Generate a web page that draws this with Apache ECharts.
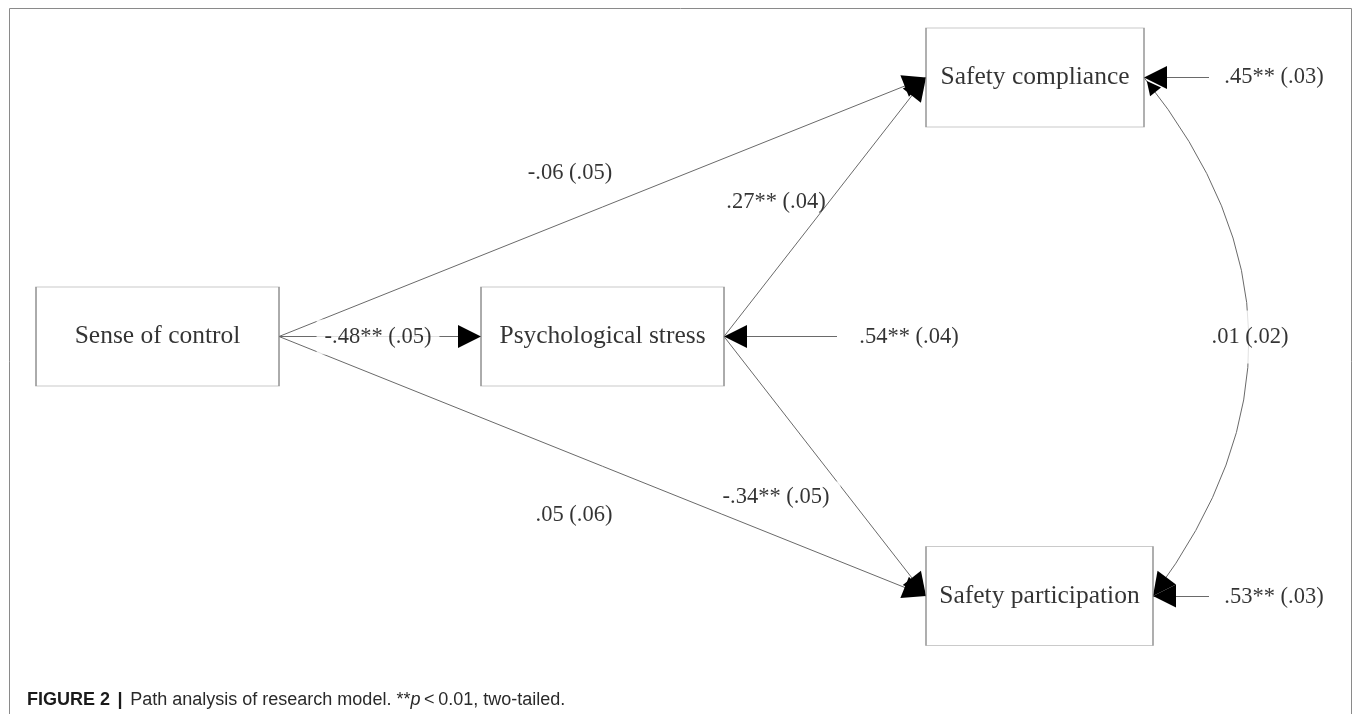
<!DOCTYPE html>
<html>
<head>
<meta charset="utf-8">
<script src="https://cdn.jsdelivr.net/npm/echarts@6/dist/echarts.min.js"></script>
<style>
html,body{margin:0;padding:0;background:#fff;}
#c{width:1357px;height:714px;}
</style>
</head>
<body>
<div id="c"></div>
<script>
// ---------------- data ----------------
const variables = ['Sense of control', 'Psychological stress', 'Safety compliance', 'Safety participation'];
const pathFrom = [0, 0, 0, 1, 1];
const pathTo = [1, 2, 3, 2, 3];
const pathEstimate = ['-.48**', '-.06', '.05', '.27**', '-.34**'];
const pathSE = ['.05', '.05', '.06', '.04', '.05'];
const residualOf = [1, 2, 3];
const residualEstimate = ['.54**', '.45**', '.53**'];
const residualSE = ['.04', '.03', '.03'];
const covPair = [2, 3];
const covEstimate = ['.01'];
const covSE = ['.02'];
const captionLabel = 'FIGURE 2';
const captionText = 'Path analysis of research model.';

// ---------------- layout (diagram units = pixels) ----------------
const boxCenter = [[157.5, 336.5], [602.5, 336.5], [1035, 77.5], [1039.5, 596]];
const boxSize = [[243, 99], [243, 99], [218, 99], [227, 99]];
const pathLabelPos = [[378, 337], [570, 173], [574, 515], [776, 202], [781, 497.5]];
const pathLabelMask = [[6, 8], null, null, null, [8, 11, 1, 1]];
const residualSourcePos = [[837, 336.5], [1209, 77.5], [1209, 596]];
const residualLabelPos = [[909, 337], [1274, 77], [1274, 597]];
const covLabelPos = [1250, 337];
const covLabelMask = [15, 4];
const covCurveness = 0.387;
const arrowSize = [14, 23];

// ---------------- geometry helpers ----------------
function rightMid(i) { return [boxCenter[i][0] + boxSize[i][0] / 2, boxCenter[i][1]]; }
function leftMid(i) { return [boxCenter[i][0] - boxSize[i][0] / 2, boxCenter[i][1]]; }
function moveToward(p, q, d) {
  const dx = q[0] - p[0], dy = q[1] - p[1];
  const L = Math.hypot(dx, dy);
  return [p[0] + dx / L * d, p[1] + dy / L * d];
}
const half = arrowSize[1] / 2;

// straight directed paths
const straightLines = [];
pathFrom.forEach((f, k) => {
  straightLines.push([rightMid(f), leftMid(pathTo[k])]);
});
residualOf.forEach((b, k) => {
  straightLines.push([residualSourcePos[k], rightMid(b)]);
});
const lineData = straightLines.map(s => ({ coords: [s[0], s[1]] }));
const arrowData = straightLines.map(s => ({ coords: [s[0], moveToward(s[1], s[0], half)] }));

// covariance curve
const c1 = rightMid(covPair[0]), c2 = rightMid(covPair[1]);
const cp = [(c1[0] + c2[0]) / 2 - (c1[1] - c2[1]) * covCurveness,
            (c1[1] + c2[1]) / 2 - (c2[0] - c1[0]) * covCurveness];
const covLine = { coords: [c1, c2] };
const covArrow = { coords: [moveToward(c1, cp, half), moveToward(c2, cp, half)] };

// labels
const labelData = [];
pathEstimate.forEach((e, k) => {
  const item = { value: pathLabelPos[k], name: e + ' (' + pathSE[k] + ')' };
  if (pathLabelMask[k]) item.label = { backgroundColor: '#fff', padding: pathLabelMask[k] };
  labelData.push(item);
});
residualEstimate.forEach((e, k) => {
  labelData.push({ value: residualLabelPos[k], name: e + ' (' + residualSE[k] + ')' });
});
labelData.push({ value: covLabelPos, name: covEstimate[0] + ' (' + covSE[0] + ')',
  label: { backgroundColor: '#fff', padding: covLabelMask } });

const boxData = variables.map((v, i) => ({ name: v, value: boxCenter[i], symbolSize: boxSize[i] }));

const serif = '"Liberation Serif", "Times New Roman", serif';
const sans = '"Liberation Sans", Arial, sans-serif';

const chart = echarts.init(document.getElementById('c'), null, { renderer: 'canvas' });
chart.setOption({
  animation: false,
  backgroundColor: '#fff',
  grid: { left: 0, right: 0, top: 0, bottom: 0, containLabel: false },
  xAxis: { type: 'value', min: 0, max: 1357, show: false },
  yAxis: { type: 'value', min: 0, max: 714, inverse: true, show: false },
  title: {
    left: 22, top: 686,
    text: '{b|' + captionLabel + '}{bar|\u2009|\u2009}{r|' + captionText + ' **}{i|p}{r|\u2009<\u20090.01, two-tailed.}',
    textStyle: {
      fontWeight: 'normal',
      rich: {
        b: { fontFamily: sans, fontWeight: 'bold', fontSize: 18, color: '#1a1a1a' },
        bar: { fontFamily: sans, fontWeight: 'bold', fontSize: 18, color: '#1a1a1a', padding: [0, 4] },
        r: { fontFamily: sans, fontWeight: 'normal', fontSize: 18, color: '#2a2a2a' },
        i: { fontFamily: sans, fontWeight: 'normal', fontSize: 18, color: '#2a2a2a', fontStyle: 'italic' }
      }
    }
  },
  graphic: [{
    type: 'rect', silent: true, z: 100,
    shape: { x: 9.5, y: 8.5, width: 1342, height: 730 },
    style: { fill: 'none', stroke: '#8a8a8a', lineWidth: 1 }
  }],
  series: [
    {
      type: 'lines', coordinateSystem: 'cartesian2d', z: 2, silent: true,
      symbol: 'none',
      lineStyle: { color: '#6a6a6a', width: 1, opacity: 1, curveness: 0 },
      data: lineData
    },
    {
      type: 'lines', coordinateSystem: 'cartesian2d', z: 2, silent: true,
      symbol: 'none',
      lineStyle: { color: '#6a6a6a', width: 1, opacity: 1, curveness: covCurveness },
      data: [covLine]
    },
    {
      type: 'lines', coordinateSystem: 'cartesian2d', z: 3, silent: true,
      symbol: ['none', 'triangle'], symbolSize: arrowSize,
      lineStyle: { color: '#000', width: 0, opacity: 1, curveness: 0 },
      data: arrowData
    },
    {
      type: 'lines', coordinateSystem: 'cartesian2d', z: 3, silent: true,
      symbol: ['triangle', 'triangle'], symbolSize: arrowSize,
      lineStyle: { color: '#000', width: 0, opacity: 1, curveness: covCurveness },
      data: [covArrow]
    },
    {
      type: 'scatter', z: 4, silent: true,
      symbol: 'rect',
      itemStyle: { color: '#fff', borderColor: '#7a7a7a', borderWidth: 1 },
      label: {
        show: true, position: 'inside', formatter: '{b}',
        fontFamily: serif, fontSize: 25.5, color: '#000',
        textBorderWidth: 0, textBorderColor: 'transparent'
      },
      data: boxData
    },
    {
      type: 'scatter', z: 5, silent: true,
      symbol: 'circle', symbolSize: 1,
      itemStyle: { color: 'rgba(0,0,0,0)' },
      label: {
        show: true, position: 'inside', formatter: '{b}',
        fontFamily: serif, fontSize: 22.5, color: '#000',
        textBorderWidth: 0, textBorderColor: 'transparent'
      },
      data: labelData
    }
  ]
});
</script>
</body>
</html>
